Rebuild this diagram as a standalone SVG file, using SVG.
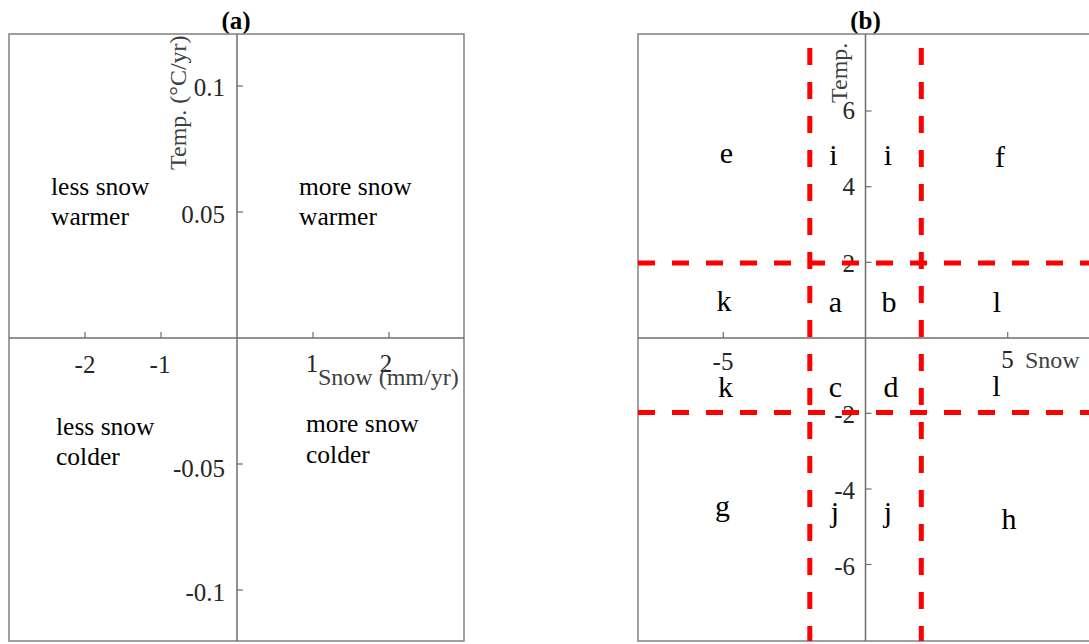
<svg xmlns="http://www.w3.org/2000/svg" width="1089" height="644" viewBox="0 0 1089 644">
  <style>
    text { font-family: "Liberation Serif", "Times New Roman", serif; }
    .frame { fill: none; stroke: #808080; stroke-width: 1.5; }
    .axis { stroke: #6e6e6e; stroke-width: 1.5; fill: none; }
    .tick { stroke: #6e6e6e; stroke-width: 1.2; }
    .title { font-size: 25px; font-weight: bold; fill: #000; text-anchor: middle; }
    .ticklbl { font-size: 25px; fill: #262626; }
    .ylbl { font-size: 25px; fill: #262626; text-anchor: end; }
    .xlbl { font-size: 25px; fill: #262626; text-anchor: middle; }
    .axlbl { font-size: 24px; fill: #404040; }
    .quad { font-size: 25.5px; fill: #000; }
    .zone { font-size: 30px; fill: #000; text-anchor: middle; }
    .thresh { stroke: #ff0000; stroke-width: 5; stroke-dasharray: 17 17; fill: none; }
  </style>

  <!-- Panel (a): quadrant schematic of snow vs temperature trends -->
  <g id="panel-a">
    <text class="title" x="236" y="29">(a)</text>
    <rect class="frame" x="9" y="34" width="455" height="607"/>
    <g id="axes-a">
      <line class="axis" x1="237" y1="34" x2="237" y2="641"/>
      <line class="axis" x1="9" y1="338" x2="464" y2="338"/>
      <line class="tick" x1="85" y1="332" x2="85" y2="338"/>
      <line class="tick" x1="161" y1="332" x2="161" y2="338"/>
      <line class="tick" x1="313" y1="332" x2="313" y2="338"/>
      <line class="tick" x1="389" y1="332" x2="389" y2="338"/>
      <line class="tick" x1="237" y1="86" x2="243" y2="86"/>
      <line class="tick" x1="237" y1="212" x2="243" y2="212"/>
      <line class="tick" x1="237" y1="464" x2="243" y2="464"/>
      <line class="tick" x1="237" y1="590" x2="243" y2="590"/>
    </g>
    <g id="ticklabels-a">
      <text class="ylbl" x="225" y="96">0.1</text>
      <text class="ylbl" x="225" y="223">0.05</text>
      <text class="ylbl" x="225" y="477">-0.05</text>
      <text class="ylbl" x="225" y="601">-0.1</text>
      <text class="xlbl" x="85" y="373">-2</text>
      <text class="xlbl" x="160" y="373">-1</text>
      <text class="xlbl" x="312" y="372">1</text>
      <text class="xlbl" x="386" y="372">2</text>
    </g>
    <text class="axlbl" x="318" y="385">Snow (mm/yr)</text>
    <text class="axlbl" transform="translate(186,170) rotate(-90)">Temp. (°C/yr)</text>
    <g id="quadrant-ul">
      <text class="quad" x="51" y="195">less snow</text>
      <text class="quad" x="51" y="225">warmer</text>
    </g>
    <g id="quadrant-ur">
      <text class="quad" x="299" y="195">more snow</text>
      <text class="quad" x="299" y="225">warmer</text>
    </g>
    <g id="quadrant-ll">
      <text class="quad" x="56" y="435">less snow</text>
      <text class="quad" x="56" y="465">colder</text>
    </g>
    <g id="quadrant-lr">
      <text class="quad" x="306" y="432">more snow</text>
      <text class="quad" x="306" y="463">colder</text>
    </g>
  </g>

  <!-- Panel (b): zones split by ±2 thresholds on both axes -->
  <g id="panel-b">
    <text class="title" x="865.5" y="29">(b)</text>
    <path class="frame" d="M1089,34 H638 V641 H1089"/>
    <g id="axes-b">
      <line class="axis" x1="865.5" y1="34" x2="865.5" y2="641"/>
      <line class="axis" x1="638" y1="338" x2="1089" y2="338"/>
      <line class="tick" x1="723.3" y1="332" x2="723.3" y2="338"/>
      <line class="tick" x1="1007.7" y1="332" x2="1007.7" y2="338"/>
      <line class="tick" x1="865.5" y1="111" x2="871.5" y2="111"/>
      <line class="tick" x1="865.5" y1="186.7" x2="871.5" y2="186.7"/>
      <line class="tick" x1="865.5" y1="262.3" x2="871.5" y2="262.3"/>
      <line class="tick" x1="865.5" y1="413.3" x2="871.5" y2="413.3"/>
      <line class="tick" x1="865.5" y1="489" x2="871.5" y2="489"/>
      <line class="tick" x1="865.5" y1="564.5" x2="871.5" y2="564.5"/>
    </g>
    <g id="ticklabels-b">
      <text class="ylbl" x="855" y="119">6</text>
      <text class="ylbl" x="855" y="195">4</text>
      <text class="ylbl" x="855" y="272">2</text>
      <text class="ylbl" x="855" y="423">-2</text>
      <text class="ylbl" x="855" y="499">-4</text>
      <text class="ylbl" x="855" y="575">-6</text>
      <text class="xlbl" x="723" y="370">-5</text>
      <text class="xlbl" x="1007.5" y="368">5</text>
    </g>
    <text class="axlbl" x="1025" y="368">Snow</text>
    <text class="axlbl" transform="translate(847,103) rotate(-90)">Temp.</text>
    <g id="zone-labels">
      <text id="zone-e" class="zone" x="726.5" y="163">e</text>
      <text id="zone-i1" class="zone" x="833.5" y="165">i</text>
      <text id="zone-i2" class="zone" x="888" y="165">i</text>
      <text id="zone-f" class="zone" x="1000" y="167">f</text>
      <text id="zone-k1" class="zone" x="724" y="311">k</text>
      <text id="zone-a" class="zone" x="835.5" y="312">a</text>
      <text id="zone-b" class="zone" x="889" y="312">b</text>
      <text id="zone-l1" class="zone" x="997" y="312">l</text>
      <text id="zone-k2" class="zone" x="725.5" y="397">k</text>
      <text id="zone-c" class="zone" x="835.5" y="397">c</text>
      <text id="zone-d" class="zone" x="891" y="397">d</text>
      <text id="zone-l2" class="zone" x="996.5" y="396">l</text>
      <text id="zone-g" class="zone" x="722.5" y="516">g</text>
      <text id="zone-j1" class="zone" x="835" y="522">j</text>
      <text id="zone-j2" class="zone" x="888" y="522">j</text>
      <text id="zone-h" class="zone" x="1009" y="529">h</text>
    </g>
    <g id="thresholds">
      <line class="thresh" x1="809.8" y1="48" x2="809.8" y2="641"/>
      <line class="thresh" x1="921.3" y1="48" x2="921.3" y2="641"/>
      <line class="thresh" x1="638" y1="263" x2="1089" y2="263"/>
      <line class="thresh" x1="638" y1="412.5" x2="1089" y2="412.5"/>
    </g>
  </g>
</svg>
